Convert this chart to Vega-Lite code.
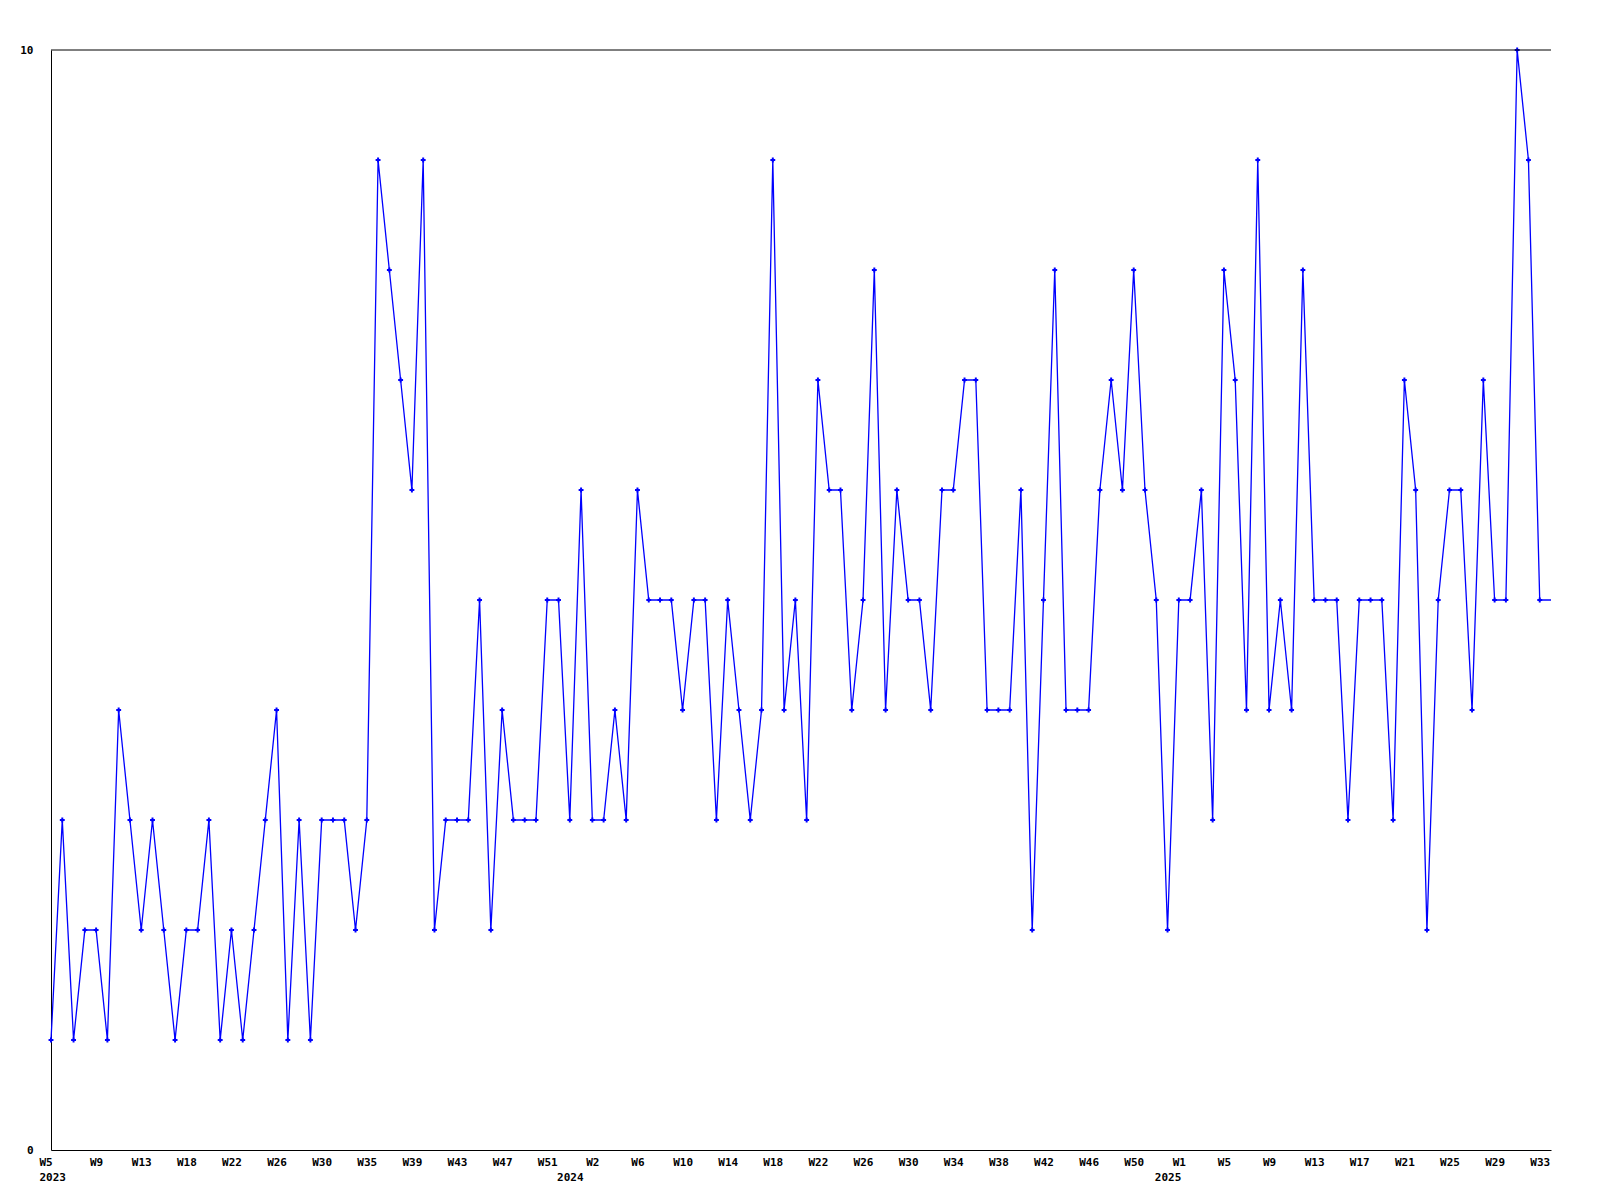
{
  "$schema": "https://vega.github.io/schema/vega-lite/v6.json",
  "width": 1500,
  "height": 1100,
  "autosize": "none",
  "padding": {"left": 51, "top": 50, "right": 49, "bottom": 50},
  "background": "white",
  "config": {
    "view": {"stroke": null},
    "axis": {
      "labelFont": "DejaVu Sans Mono",
      "labelFontWeight": "bold",
      "labelFontSize": 11,
      "labelColor": "black",
      "domainColor": "black",
      "domainWidth": 1,
      "grid": false,
      "ticks": false,
      "tickSize": 0,
      "title": null,
      "labelFlush": false,
      "labelOverlap": false,
      "labelBound": false
    }
  },
  "data": {
    "values": [
      {"week": "2023 W5", "count": 1}, {"week": "2023 W6", "count": 3}, {"week": "2023 W7", "count": 1}, {"week": "2023 W8", "count": 2},
      {"week": "2023 W9", "count": 2}, {"week": "2023 W10", "count": 1}, {"week": "2023 W11", "count": 4}, {"week": "2023 W12", "count": 3},
      {"week": "2023 W13", "count": 2}, {"week": "2023 W14", "count": 3}, {"week": "2023 W15", "count": 2}, {"week": "2023 W17", "count": 1},
      {"week": "2023 W18", "count": 2}, {"week": "2023 W19", "count": 2}, {"week": "2023 W20", "count": 3}, {"week": "2023 W21", "count": 1},
      {"week": "2023 W22", "count": 2}, {"week": "2023 W23", "count": 1}, {"week": "2023 W24", "count": 2}, {"week": "2023 W25", "count": 3},
      {"week": "2023 W26", "count": 4}, {"week": "2023 W27", "count": 1}, {"week": "2023 W28", "count": 3}, {"week": "2023 W29", "count": 1},
      {"week": "2023 W30", "count": 3}, {"week": "2023 W31", "count": 3}, {"week": "2023 W32", "count": 3}, {"week": "2023 W33", "count": 2},
      {"week": "2023 W35", "count": 3}, {"week": "2023 W36", "count": 9}, {"week": "2023 W37", "count": 8}, {"week": "2023 W38", "count": 7},
      {"week": "2023 W39", "count": 6}, {"week": "2023 W40", "count": 9}, {"week": "2023 W41", "count": 2}, {"week": "2023 W42", "count": 3},
      {"week": "2023 W43", "count": 3}, {"week": "2023 W44", "count": 3}, {"week": "2023 W45", "count": 5}, {"week": "2023 W46", "count": 2},
      {"week": "2023 W47", "count": 4}, {"week": "2023 W48", "count": 3}, {"week": "2023 W49", "count": 3}, {"week": "2023 W50", "count": 3},
      {"week": "2023 W51", "count": 5}, {"week": "2023 W52", "count": 5}, {"week": "2024 W0", "count": 3}, {"week": "2024 W1", "count": 6},
      {"week": "2024 W2", "count": 3}, {"week": "2024 W3", "count": 3}, {"week": "2024 W4", "count": 4}, {"week": "2024 W5", "count": 3},
      {"week": "2024 W6", "count": 6}, {"week": "2024 W7", "count": 5}, {"week": "2024 W8", "count": 5}, {"week": "2024 W9", "count": 5},
      {"week": "2024 W10", "count": 4}, {"week": "2024 W11", "count": 5}, {"week": "2024 W12", "count": 5}, {"week": "2024 W13", "count": 3},
      {"week": "2024 W14", "count": 5}, {"week": "2024 W15", "count": 4}, {"week": "2024 W16", "count": 3}, {"week": "2024 W17", "count": 4},
      {"week": "2024 W18", "count": 9}, {"week": "2024 W19", "count": 4}, {"week": "2024 W20", "count": 5}, {"week": "2024 W21", "count": 3},
      {"week": "2024 W22", "count": 7}, {"week": "2024 W23", "count": 6}, {"week": "2024 W24", "count": 6}, {"week": "2024 W25", "count": 4},
      {"week": "2024 W26", "count": 5}, {"week": "2024 W27", "count": 8}, {"week": "2024 W28", "count": 4}, {"week": "2024 W29", "count": 6},
      {"week": "2024 W30", "count": 5}, {"week": "2024 W31", "count": 5}, {"week": "2024 W32", "count": 4}, {"week": "2024 W33", "count": 6},
      {"week": "2024 W34", "count": 6}, {"week": "2024 W35", "count": 7}, {"week": "2024 W36", "count": 7}, {"week": "2024 W37", "count": 4},
      {"week": "2024 W38", "count": 4}, {"week": "2024 W39", "count": 4}, {"week": "2024 W40", "count": 6}, {"week": "2024 W41", "count": 2},
      {"week": "2024 W42", "count": 5}, {"week": "2024 W43", "count": 8}, {"week": "2024 W44", "count": 4}, {"week": "2024 W45", "count": 4},
      {"week": "2024 W46", "count": 4}, {"week": "2024 W47", "count": 6}, {"week": "2024 W48", "count": 7}, {"week": "2024 W49", "count": 6},
      {"week": "2024 W50", "count": 8}, {"week": "2024 W51", "count": 6}, {"week": "2024 W52", "count": 5}, {"week": "2025 W0", "count": 2},
      {"week": "2025 W1", "count": 5}, {"week": "2025 W2", "count": 5}, {"week": "2025 W3", "count": 6}, {"week": "2025 W4", "count": 3},
      {"week": "2025 W5", "count": 8}, {"week": "2025 W6", "count": 7}, {"week": "2025 W7", "count": 4}, {"week": "2025 W8", "count": 9},
      {"week": "2025 W9", "count": 4}, {"week": "2025 W10", "count": 5}, {"week": "2025 W11", "count": 4}, {"week": "2025 W12", "count": 8},
      {"week": "2025 W13", "count": 5}, {"week": "2025 W14", "count": 5}, {"week": "2025 W15", "count": 5}, {"week": "2025 W16", "count": 3},
      {"week": "2025 W17", "count": 5}, {"week": "2025 W18", "count": 5}, {"week": "2025 W19", "count": 5}, {"week": "2025 W20", "count": 3},
      {"week": "2025 W21", "count": 7}, {"week": "2025 W22", "count": 6}, {"week": "2025 W23", "count": 2}, {"week": "2025 W24", "count": 5},
      {"week": "2025 W25", "count": 6}, {"week": "2025 W26", "count": 6}, {"week": "2025 W27", "count": 4}, {"week": "2025 W28", "count": 7},
      {"week": "2025 W29", "count": 5}, {"week": "2025 W30", "count": 5}, {"week": "2025 W31", "count": 10}, {"week": "2025 W32", "count": 9},
      {"week": "2025 W33", "count": 5}, {"week": "2025 W34", "count": 5}
    ]
  },
  "layer": [
    {
      "mark": {"type": "line", "color": "#0000ff", "strokeWidth": 1.3},
      "encoding": {
        "x": {
          "field": "week",
          "type": "ordinal",
          "sort": null,
          "scale": {"type": "point", "padding": 0},
          "axis": {
            "labelAngle": 0,
            "labelPadding": 6,
            "labelBaseline": "top",
            "labelLineHeight": 15,
            "labelAlign": {"condition": {"test": "datum.value == '2023 W5'", "value": "left"}, "value": "center"},
            "labelOffset": {"condition": {"test": "datum.value == '2023 W5'", "value": -12}, "value": 0},
            "values": ["2023 W5", "2023 W9", "2023 W13", "2023 W18", "2023 W22", "2023 W26", "2023 W30", "2023 W35", "2023 W39", "2023 W43", "2023 W47", "2023 W51",
                       "2024 W0", "2024 W2", "2024 W6", "2024 W10", "2024 W14", "2024 W18", "2024 W22", "2024 W26", "2024 W30", "2024 W34", "2024 W38", "2024 W42", "2024 W46", "2024 W50",
                       "2025 W0", "2025 W1", "2025 W5", "2025 W9", "2025 W13", "2025 W17", "2025 W21", "2025 W25", "2025 W29", "2025 W33"],
            "labelExpr": "datum.value == '2023 W5' ? ['W5', '2023'] : (datum.value == '2024 W0' ? [' ', '2024'] : (datum.value == '2025 W0' ? [' ', '2025'] : split(datum.value, ' ')[1]))"
          }
        },
        "y": {
          "field": "count",
          "type": "quantitative",
          "scale": {"domain": [0, 10], "nice": false, "zero": true},
          "axis": {"values": [0, 10], "format": "d", "labelPadding": 18, "labelBaseline": "middle"}
        }
      }
    },
    {
      "transform": [{"filter": "datum.week != '2025 W34'"}],
      "mark": {"type": "point", "shape": "cross", "filled": true, "size": 24, "color": "#0000ff", "opacity": 1},
      "encoding": {
        "x": {"field": "week", "type": "ordinal", "sort": null},
        "y": {"field": "count", "type": "quantitative"}
      }
    },
    {
      "data": {"values": [{}]},
      "mark": {"type": "rule", "color": "black", "strokeWidth": 1},
      "encoding": {"y": {"datum": 10}}
    }
  ]
}
